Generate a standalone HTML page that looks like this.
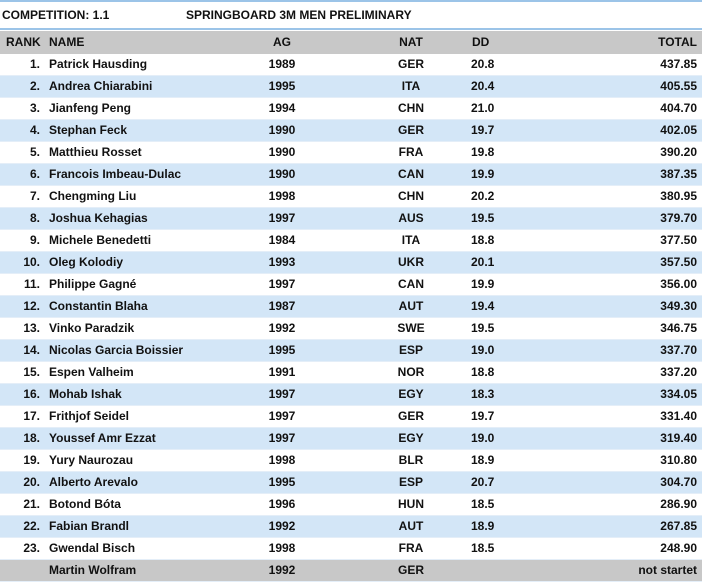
<!DOCTYPE html>
<html><head><style>
body{margin:0;width:702px;height:580px;overflow:hidden;background:#fff;font-family:"Liberation Sans",Arial,sans-serif;font-weight:bold;font-size:12px;color:#111;position:relative}
.t{position:absolute;white-space:nowrap;font-weight:bold}
.row{position:absolute;left:0;width:702px;height:22px;border-bottom:1px solid #e4eef8;box-sizing:border-box}
.row span{position:absolute;top:3px;white-space:nowrap;font-weight:bold}
.r{right:662px;text-align:right}
.n{left:49px}
.a{left:262px;width:40px;text-align:center}
.c{left:391px;width:40px;text-align:center}
.d{left:471px}
.tot{right:5px}
</style></head><body>
<div style="position:absolute;left:0;top:0;width:702px;height:2px;background:#9cc4e8"></div>
<div class="t" style="left:2px;top:8px">COMPETITION: 1.1</div>
<div class="t" style="left:186px;top:8px">SPRINGBOARD 3M MEN PRELIMINARY</div>
<div style="position:absolute;left:0;top:28px;width:702px;height:2px;background:#9cc4e8"></div>
<div class="row" style="top:31px;height:23px;background:#c8c8c8;border:none"><span style="left:6px;top:4px">RANK</span><span class="n" style="top:4px">NAME</span><span class="a" style="top:4px">AG</span><span class="c" style="top:4px">NAT</span><span style="left:472px;top:4px">DD</span><span class="tot" style="top:4px">TOTAL</span></div>
<div id="rows"></div>
<script>
var d=[["1.","Patrick Hausding","1989","GER","20.8","437.85"],["2.","Andrea Chiarabini","1995","ITA","20.4","405.55"],["3.","Jianfeng Peng","1994","CHN","21.0","404.70"],["4.","Stephan Feck","1990","GER","19.7","402.05"],["5.","Matthieu Rosset","1990","FRA","19.8","390.20"],["6.","Francois Imbeau-Dulac","1990","CAN","19.9","387.35"],["7.","Chengming Liu","1998","CHN","20.2","380.95"],["8.","Joshua Kehagias","1997","AUS","19.5","379.70"],["9.","Michele Benedetti","1984","ITA","18.8","377.50"],["10.","Oleg Kolodiy","1993","UKR","20.1","357.50"],["11.","Philippe Gagné","1997","CAN","19.9","356.00"],["12.","Constantin Blaha","1987","AUT","19.4","349.30"],["13.","Vinko Paradzik","1992","SWE","19.5","346.75"],["14.","Nicolas Garcia Boissier","1995","ESP","19.0","337.70"],["15.","Espen Valheim","1991","NOR","18.8","337.20"],["16.","Mohab Ishak","1997","EGY","18.3","334.05"],["17.","Frithjof Seidel","1997","GER","19.7","331.40"],["18.","Youssef Amr Ezzat","1997","EGY","19.0","319.40"],["19.","Yury Naurozau","1998","BLR","18.9","310.80"],["20.","Alberto Arevalo","1995","ESP","20.7","304.70"],["21.","Botond Bóta","1996","HUN","18.5","286.90"],["22.","Fabian Brandl","1992","AUT","18.9","267.85"],["23.","Gwendal Bisch","1998","FRA","18.5","248.90"],["","Martin Wolfram","1992","GER","","not startet"]];
var h="";d.forEach(function(r,i){var bg=i==23?"#c8c8c8":(i%2?"#d3e6f7":"#fff");
h+='<div class="row" style="top:'+(54+22*i)+'px;background:'+bg+'"><span class="r">'+r[0]+'</span><span class="n">'+r[1]+'</span><span class="a">'+r[2]+'</span><span class="c">'+r[3]+'</span><span class="d">'+r[4]+'</span><span class="tot">'+r[5]+'</span></div>';});
document.getElementById("rows").innerHTML=h;
</script>
</body></html>
